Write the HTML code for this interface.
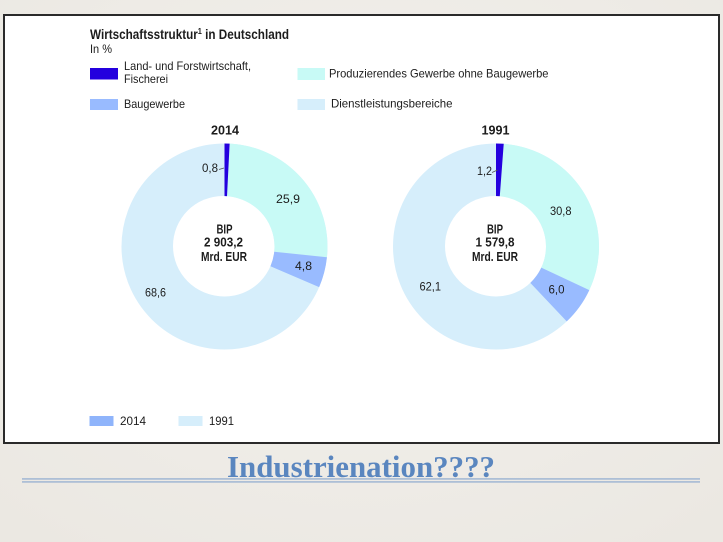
<!DOCTYPE html>
<html>
<head>
<meta charset="utf-8">
<style>
  html,body{margin:0;padding:0;}
  body{width:723px;height:542px;overflow:hidden;background:#efece7;}
  svg{display:block;}
  .t{font-family:"Liberation Sans",sans-serif;fill:#1c1c1c;}
</style>
</head>
<body>
<svg width="723" height="542" viewBox="0 0 723 542" xmlns="http://www.w3.org/2000/svg">
  <defs>
    <radialGradient id="bg" cx="50%" cy="40%" r="75%">
      <stop offset="0" stop-color="#f3f1ed"/>
      <stop offset="1" stop-color="#ebe8e2"/>
    </radialGradient>
  </defs>
  <rect x="0" y="0" width="723" height="542" fill="url(#bg)"/>

  <!-- white panel -->
  <rect x="4" y="15" width="715" height="428" fill="#ffffff" stroke="#2a2a2a" stroke-width="2"/>

  <!-- header -->
  <text class="t" x="90" y="39" font-size="13.5" font-weight="bold" textLength="199" lengthAdjust="spacingAndGlyphs">Wirtschaftsstruktur<tspan font-size="8.5" dy="-5">1</tspan><tspan dy="5"> in Deutschland</tspan></text>
  <text class="t" x="90" y="53" font-size="12" textLength="22" lengthAdjust="spacingAndGlyphs">In %</text>

  <!-- legend top -->
  <rect x="90" y="68" width="28" height="11.5" fill="#2400de"/>
  <text class="t" x="124" y="70" font-size="12" textLength="127" lengthAdjust="spacingAndGlyphs">Land- und Forstwirtschaft,</text>
  <text class="t" x="124" y="83" font-size="12" textLength="44" lengthAdjust="spacingAndGlyphs">Fischerei</text>

  <rect x="297.5" y="68" width="27.5" height="12" fill="#c8faf6"/>
  <text class="t" x="329" y="77.3" font-size="12" textLength="219.5" lengthAdjust="spacingAndGlyphs">Produzierendes Gewerbe ohne Baugewerbe</text>

  <rect x="90" y="99" width="28" height="11" fill="#99bbff"/>
  <text class="t" x="124" y="108" font-size="12" textLength="61" lengthAdjust="spacingAndGlyphs">Baugewerbe</text>

  <rect x="297.5" y="99" width="27.5" height="11" fill="#d6eefb"/>
  <text class="t" x="331" y="107.5" font-size="12" textLength="121.5" lengthAdjust="spacingAndGlyphs">Dienstleistungsbereiche</text>

  <!-- Left donut 2014 -->
  <text class="t" x="225" y="134.5" font-size="12.5" font-weight="bold" text-anchor="middle" textLength="28" lengthAdjust="spacingAndGlyphs">2014</text>
  <g transform="translate(224.5,246.5) rotate(-90)" fill="none" stroke-width="53">
    <circle r="76.5" stroke="#d6eefb" />
    <circle r="76.5" pathLength="100" stroke="#c8faf6" stroke-dasharray="25.9 100" stroke-dashoffset="-0.8"/>
    <circle r="76.5" pathLength="100" stroke="#99bbff" stroke-dasharray="4.8 100" stroke-dashoffset="-26.7"/>
    <circle r="76.5" pathLength="100" stroke="#2400de" stroke-dasharray="0.8 100" stroke-dashoffset="0"/>
  </g>
  <circle cx="223" cy="246" r="50" fill="#ffffff"/>
  <line x1="219" y1="169.5" x2="224" y2="168" stroke="#555" stroke-width="0.8"/>
  <text class="t" x="202" y="172" font-size="11.5" textLength="16" lengthAdjust="spacingAndGlyphs">0,8</text>
  <text class="t" x="276" y="203" font-size="11.5" textLength="24" lengthAdjust="spacingAndGlyphs">25,9</text>
  <text class="t" x="295" y="270" font-size="11.5" textLength="17" lengthAdjust="spacingAndGlyphs">4,8</text>
  <text class="t" x="145" y="296.5" font-size="11.5" textLength="21" lengthAdjust="spacingAndGlyphs">68,6</text>
  <text class="t" x="224.5" y="233.5" font-size="12.5" font-weight="bold" text-anchor="middle" textLength="16" lengthAdjust="spacingAndGlyphs">BIP</text>
  <text class="t" x="223.5" y="246.5" font-size="12.5" font-weight="bold" text-anchor="middle" textLength="39" lengthAdjust="spacingAndGlyphs">2 903,2</text>
  <text class="t" x="224" y="261" font-size="12.5" font-weight="bold" text-anchor="middle" textLength="46" lengthAdjust="spacingAndGlyphs">Mrd. EUR</text>

  <!-- Right donut 1991 -->
  <text class="t" x="495.5" y="134.5" font-size="12.5" font-weight="bold" text-anchor="middle" textLength="28" lengthAdjust="spacingAndGlyphs">1991</text>
  <g transform="translate(496,246.5) rotate(-90)" fill="none" stroke-width="53">
    <circle r="76.5" stroke="#d6eefb" />
    <circle r="76.5" pathLength="100" stroke="#c8faf6" stroke-dasharray="30.8 100" stroke-dashoffset="-1.2"/>
    <circle r="76.5" pathLength="100" stroke="#99bbff" stroke-dasharray="6.0 100" stroke-dashoffset="-32"/>
    <circle r="76.5" pathLength="100" stroke="#2400de" stroke-dasharray="1.2 100" stroke-dashoffset="0"/>
  </g>
  <circle cx="495" cy="246" r="50" fill="#ffffff"/>
  <line x1="492" y1="172.5" x2="497.5" y2="170" stroke="#555" stroke-width="0.8"/>
  <text class="t" x="477" y="175" font-size="11.5" textLength="15" lengthAdjust="spacingAndGlyphs">1,2</text>
  <text class="t" x="550" y="215" font-size="11.5" textLength="21.5" lengthAdjust="spacingAndGlyphs">30,8</text>
  <text class="t" x="548.5" y="293.3" font-size="11.5" textLength="16" lengthAdjust="spacingAndGlyphs">6,0</text>
  <text class="t" x="419.5" y="290.7" font-size="11.5" textLength="21.5" lengthAdjust="spacingAndGlyphs">62,1</text>
  <text class="t" x="495" y="233.5" font-size="12.5" font-weight="bold" text-anchor="middle" textLength="16" lengthAdjust="spacingAndGlyphs">BIP</text>
  <text class="t" x="495" y="246.5" font-size="12.5" font-weight="bold" text-anchor="middle" textLength="39" lengthAdjust="spacingAndGlyphs">1 579,8</text>
  <text class="t" x="495" y="261" font-size="12.5" font-weight="bold" text-anchor="middle" textLength="46" lengthAdjust="spacingAndGlyphs">Mrd. EUR</text>

  <!-- bottom legend -->
  <rect x="89.5" y="416" width="24" height="10" fill="#8fb4fb"/>
  <text class="t" x="120" y="425" font-size="12" textLength="26" lengthAdjust="spacingAndGlyphs">2014</text>
  <rect x="178.5" y="416" width="24" height="10" fill="#d6eefb"/>
  <text class="t" x="209" y="425" font-size="12" textLength="25" lengthAdjust="spacingAndGlyphs">1991</text>

  <!-- slide title -->
  <rect x="22" y="478" width="678" height="1.8" fill="#adbfd6"/>
  <rect x="22" y="481" width="678" height="1.8" fill="#adbfd6"/>
  <text x="227" y="477" font-family="'Liberation Serif',serif" font-weight="bold" font-size="31" fill="#5a86bf" textLength="268" lengthAdjust="spacingAndGlyphs">Industrienation????</text>
</svg>
</body>
</html>
